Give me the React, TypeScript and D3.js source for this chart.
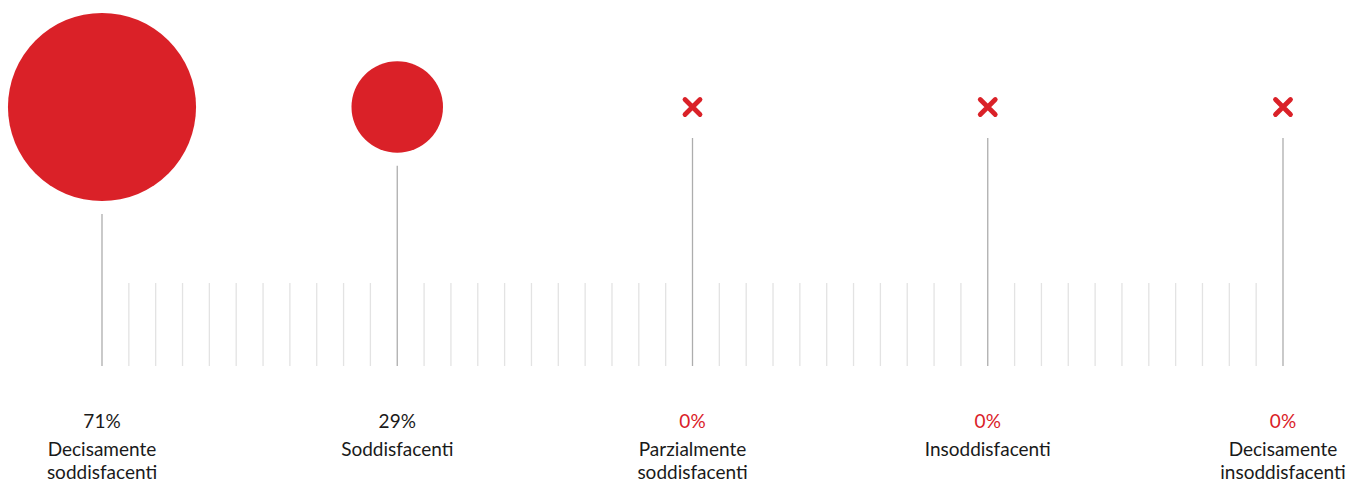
import React from "react";
import * as d3 from "d3";

const categories = [
  ["Decisamente", "soddisfacenti"],
  ["Soddisfacenti"],
  ["Parzialmente", "soddisfacenti"],
  ["Insoddisfacenti"],
  ["Decisamente", "insoddisfacenti"],
];
const values = [71, 29, 0, 0, 0];
const minorPerGap = 10;

const W = 1346;
const H = 481;
const RED = "#da2128";

export default function App() {
  const keys = categories.map((c) => c.join(" "));
  const x = d3.scalePoint<string>().domain(keys).range([102, 1283]);
  const r = d3.scaleLinear().domain([0, 100]).range([12.4, 127.4]);
  const idx = d3.scaleLinear().domain([0, keys.length - 1]).range([102, 1283]);

  const cy = 107;
  const baseY = 366;
  const minorTop = 283;

  const minors: number[] = [];
  for (let i = 0; i < keys.length - 1; i++) {
    for (let k = 1; k <= minorPerGap; k++) {
      minors.push(idx(i + k / (minorPerGap + 1)));
    }
  }

  return (
    <svg
      width={W}
      height={H}
      style={{ position: "absolute", left: 0, top: 0 }}
      fontFamily="Lato, 'Open Sans', sans-serif"
    >
      {minors.map((mx, i) => (
        <line key={i} x1={mx} x2={mx} y1={minorTop} y2={baseY} stroke="#e3e3e3" strokeWidth={1.3} />
      ))}
      {keys.map((k, i) => {
        const cx = x(k) as number;
        const v = values[i];
        const rad = v > 0 ? r(v) : 0;
        const stemTop = v > 0 ? cy + rad + 13 : 138;
        return (
          <g key={k}>
            <line x1={cx} x2={cx} y1={stemTop} y2={baseY} stroke="#adadad" strokeWidth={1.3} />
            {v > 0 ? (
              <circle cx={cx} cy={cy} r={rad} fill={RED} />
            ) : (
              <path
                d={`M${cx - 7.5},${cy - 7.5}L${cx + 7.5},${cy + 7.5}M${cx + 7.5},${cy - 7.5}L${cx - 7.5},${cy + 7.5}`}
                stroke={RED}
                strokeWidth={4.8}
                strokeLinecap="round"
                fill="none"
              />
            )}
            <text x={cx} y={428} textAnchor="middle" fontSize={19} fill={v > 0 ? "#1a1a1a" : RED}>
              {v}%
            </text>
            {categories[i].map((line, j) => (
              <text key={j} x={cx} y={456 + j * 22.5} textAnchor="middle" fontSize={19} fill="#1a1a1a">
                {line}
              </text>
            ))}
          </g>
        );
      })}
    </svg>
  );
}
